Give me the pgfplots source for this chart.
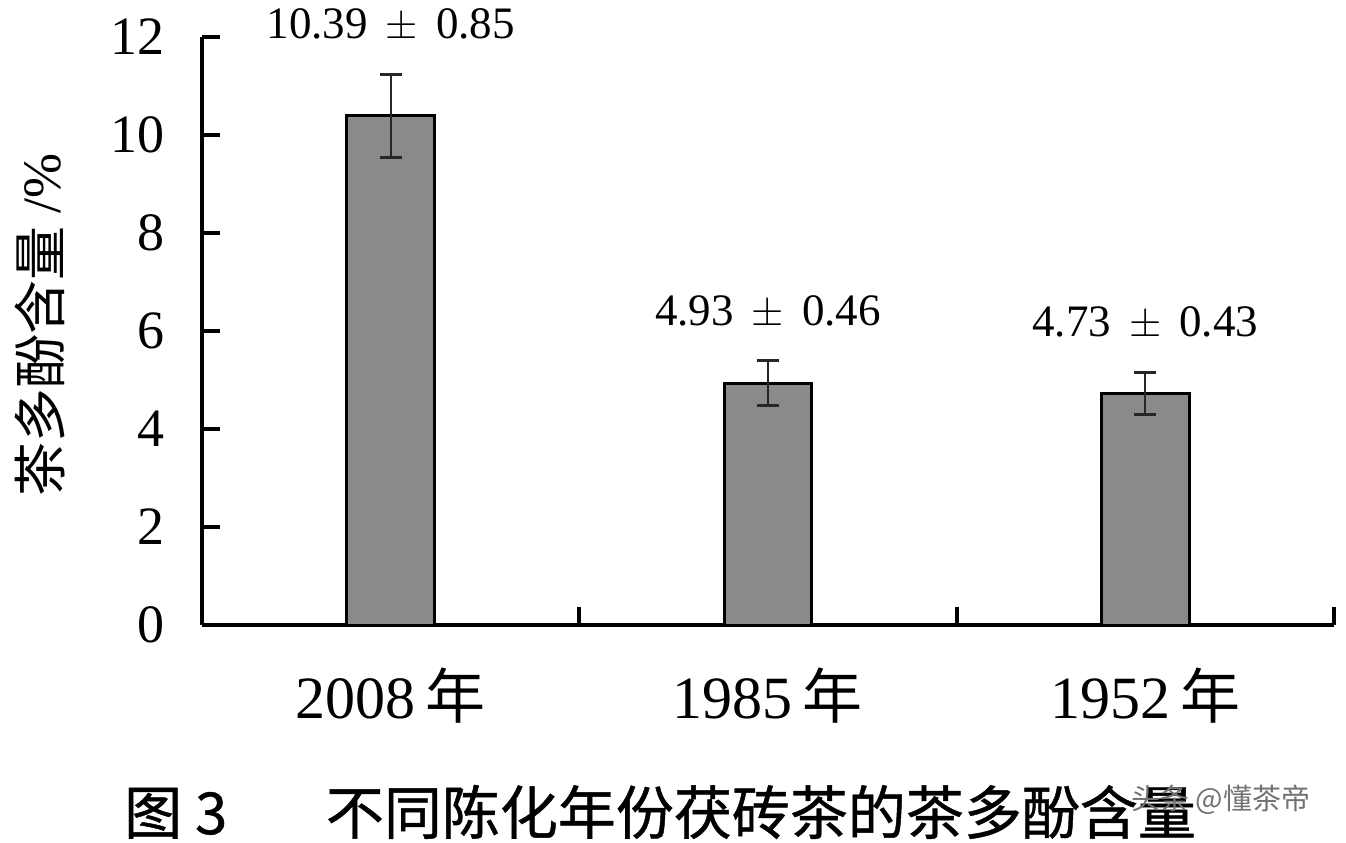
\documentclass[border=0pt]{standalone}
\usepackage{fontspec}
\setmainfont{Liberation Serif}
\newfontfamily\cjk{Noto Sans CJK SC}
\newfontfamily\cjkt[FakeBold=0.8]{Noto Sans CJK SC}
\usepackage{pgfplots}
\pgfplotsset{compat=1.18}
\definecolor{barfill}{RGB}{138,138,138}
\newcommand{\pmv}{\hspace{0.4em}$\pm$\hspace{0.4em}}

\begin{document}
\begin{tikzpicture}
% picture frame: 1 px of the reference = 0.5pt
\useasboundingbox (-101pt,-108.5pt) rectangle (572pt,312.5pt);
\begin{axis}[
  scale only axis,
  width=566pt, height=294pt,
  xmin=-0.5, xmax=2.5,
  ymin=0, ymax=12,
  ytick={0,2,...,12},
  xtick={0,1,2},
  xticklabels={2008\,{\cjk 年}, 1985\,{\cjk 年}, 1952\,{\cjk 年}},
  minor xtick={0.5,1.5,2.5},
  major x tick style={draw=none},
  axis x line*=bottom,
  axis y line*=left,
  axis line style={line width=2pt},
  tick style={line width=2pt, black},
  tick align=inside,
  major tick length=9pt,
  minor tick length=9pt,
  clip=false,
  /pgf/number format/assume math mode=true,
  yticklabel style={font=\fontsize{27}{27}\selectfont, inner sep=0pt, xshift=-18.5pt},
  xticklabel style={font=\fontsize{30}{30}\selectfont, inner sep=0pt, yshift=-21pt},
  ylabel={{\cjk 茶多酚含量} /\%},
  ylabel style={font=\fontsize{27}{27}\selectfont, at={(axis description cs:-0.143,0.51)}, anchor=center},
]
\addplot[ybar, bar width=0.233, fill=barfill, draw=black, line width=1.5pt,
  error bars/.cd, y dir=both, y explicit,
  error bar style={line width=1pt, black!85},
  error mark options={rotate=90, mark size=5.5pt, line width=1.5pt, black!85}]
  coordinates {
  (0,10.39) +- (0,0.85)
  (1,4.93) +- (0,0.46)
  (2,4.73) +- (0,0.43)
};
\addplot[draw=none, mark=none, nodes near coords, point meta=explicit symbolic,
  nodes near coords style={anchor=south, inner sep=0pt, yshift=16pt,
    font=\fontsize{22.5}{22.5}\selectfont}]
  coordinates {
  (0,11.24) [10.39\pmv0.85]
  (1,5.39) [4.93\pmv0.46]
  (2,5.16) [4.73\pmv0.43]
};
\node[font=\cjkt\fontsize{29}{29}\selectfont, anchor=center]
  at (axis description cs:0.4046,-0.318) {图 3\hspace{1.7em}不同陈化年份茯砖茶的茶多酚含量};
\node[font=\cjk\fontsize{14.5}{14.5}\selectfont, text=black!55, anchor=center]
  at (axis description cs:0.9,-0.298) {头条 @懂茶帝};
\end{axis}
\end{tikzpicture}
\end{document}
